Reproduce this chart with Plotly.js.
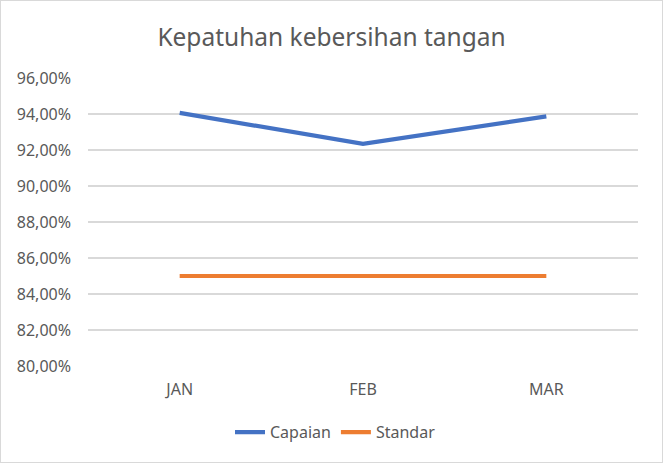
<!DOCTYPE html>
<html>
<head>
<meta charset="utf-8">
<script src="https://cdn.plot.ly/plotly-3.0.1.min.js"></script>
<style>
  html, body { margin: 0; padding: 0; background: #fff; }
  #chart { width: 661px; height: 461px; border: 1px solid #D9D9D9; }
</style>
</head>
<body>
<div id="chart"></div>
<script>
const months = ["JAN", "FEB", "MAR"];
const capaian = [0.9406, 0.9234, 0.9387];
const standar = [0.85, 0.85, 0.85];
const seriesNames = ["Capaian", "Standar"];
const yTicks = [0.80, 0.82, 0.84, 0.86, 0.88, 0.90, 0.92, 0.94, 0.96];

const font = "Noto Sans, Open Sans, sans-serif";
const data = [
  { x: months, y: capaian, name: seriesNames[0], type: "scatter", mode: "lines",
    line: { color: "#4472C4", width: 4.2 }, hoverinfo: "none" },
  { x: months, y: standar, name: seriesNames[1], type: "scatter", mode: "lines",
    line: { color: "#ED7D31", width: 4.2 }, hoverinfo: "none" }
];
const layout = {
  width: 661, height: 461,
  margin: { l: 87, r: 24, t: 77, b: 96 },
  paper_bgcolor: "#fff", plot_bgcolor: "#fff",
  separators: ",.",
  title: { text: "Kepatuhan kebersihan tangan", x: 0.5, xanchor: "center", y: 0.922, yanchor: "middle",
           font: { family: font, size: 24.5, color: "#595959" } },
  xaxis: { type: "category", range: [-0.5, 2.5], showgrid: false, zeroline: false, showline: false,
           ticks: "", ticklabelstandoff: 12, tickfont: { family: font, size: 16, color: "#595959" }, fixedrange: true },
  yaxis: { range: [0.80, 0.96], tickvals: yTicks, tickformat: ".2%", showgrid: true,
           gridcolor: "#D9D9D9", gridwidth: 1.3, zeroline: false, showline: false, ticks: "",
           ticklabelstandoff: 16, tickfont: { family: font, size: 16, color: "#595959" }, fixedrange: true },
  showlegend: true,
  legend: { orientation: "h", x: 0.45, xanchor: "center", y: -0.23, yanchor: "middle",
            font: { family: font, size: 16, color: "#595959" }, tracegroupgap: 0 }
};
Plotly.newPlot("chart", data, layout, { displayModeBar: false, staticPlot: true });
</script>
</body>
</html>
